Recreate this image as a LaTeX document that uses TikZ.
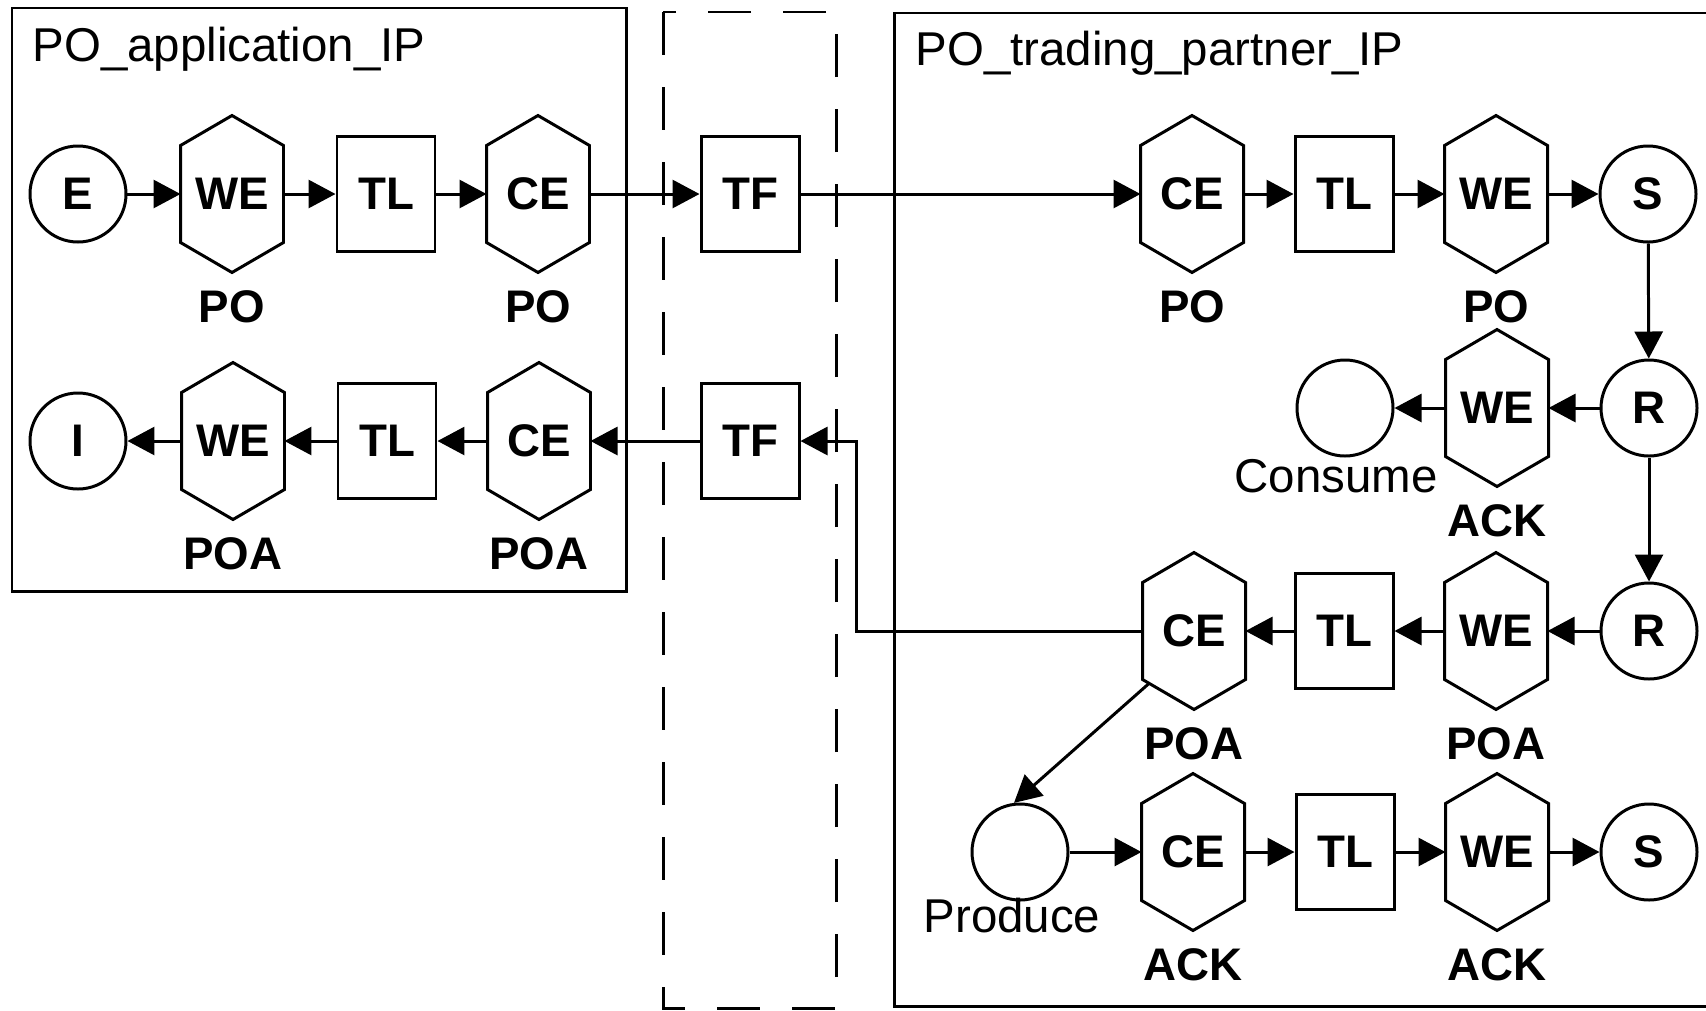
\documentclass[tikz,border=0pt]{standalone}
\usepackage{fontspec}
\setmainfont{Liberation Sans}
\usetikzlibrary{arrows.meta,positioning}

\begin{document}
\begin{tikzpicture}[line width=0.85pt, >={Triangle[length=0.27cm,width=0.28cm]},
  font=\fontsize{13.5}{16}\selectfont,
  place/.style={circle, draw, minimum size=0.96cm, inner sep=0pt, font=\fontsize{13}{15}\selectfont\bfseries},
  hexa/.style={rectangle, minimum width=1cm, minimum height=1.54cm, inner sep=0pt, font=\fontsize{13}{15}\selectfont\bfseries},
  tbox/.style={rectangle, draw, minimum width=0.98cm, minimum height=1.15cm, inner sep=0pt, font=\fontsize{13}{15}\selectfont\bfseries},
  lbl/.style={inner sep=0pt, font=\fontsize{13}{15}\selectfont\bfseries},
  txt/.style={inner sep=0pt}]
\useasboundingbox (0,0) rectangle (17.06,-10.10);
\clip (0,0) rectangle (17.06,-10.10);
% frames:
\draw (0.12,-0.08) rectangle (6.26,-5.91);
\draw[dash pattern=on 0.43cm off 0.32cm] (6.63,-0.12) rectangle (8.36,-10.08);
\draw (8.94,-0.13) rectangle (17.4,-10.06);
\node[txt, anchor=base west] (appT) at (0.31,-0.61) {PO\_application\_IP};
\node[txt, anchor=base west] (tpT) at (9.14,-0.65) {PO\_trading\_partner\_IP};
% application, PO out:
\node[place] (E) at (0.78,-1.94) {E};
\node[hexa] (WE1) at (2.32,-1.94) {WE};
\node[tbox] (TL1) at (3.86,-1.94) {TL};
\node[hexa] (CE1) at (5.38,-1.94) {CE};
\node[tbox] (TF1) at (7.50,-1.94) {TF};
\node[lbl, below=0.17cm of WE1] (WE1l) {PO};
\node[lbl, below=0.17cm of CE1] (CE1l) {PO};
\draw[->] (E) -- (WE1);
\draw[->] (WE1) -- (TL1);
\draw[->] (TL1) -- (CE1);
\draw[->] (CE1) -- (TF1);
% application, POA in:
\node[place] (I) at (0.78,-4.41) {I};
\node[hexa] (WE2) at (2.33,-4.41) {WE};
\node[tbox] (TL2) at (3.87,-4.41) {TL};
\node[hexa] (CE2) at (5.39,-4.41) {CE};
\node[tbox] (TF2) at (7.50,-4.41) {TF};
\node[lbl, below=0.17cm of WE2] (WE2l) {POA};
\node[lbl, below=0.17cm of CE2] (CE2l) {POA};
\draw[->] (TF2) -- (CE2);
\draw[->] (CE2) -- (TL2);
\draw[->] (TL2) -- (WE2);
\draw[->] (WE2) -- (I);
% trading partner, PO in:
\node[hexa] (CE3) at (11.92,-1.94) {CE};
\node[tbox] (TL3) at (13.44,-1.94) {TL};
\node[hexa] (WE3) at (14.96,-1.94) {WE};
\node[place] (S1) at (16.48,-1.94) {S};
\node[lbl, below=0.17cm of CE3] (CE3l) {PO};
\node[lbl, below=0.17cm of WE3] (WE3l) {PO};
\draw[->] (TF1) -- (CE3);
\draw[->] (CE3) -- (TL3);
\draw[->] (TL3) -- (WE3);
\draw[->] (WE3) -- (S1);
% ACK in:
\node[place] (R1) at (16.49,-4.08) {R};
\node[hexa] (WE4) at (14.97,-4.08) {WE};
\node[place] (Cons) at (13.45,-4.08) {};
\node[lbl, below=0.17cm of WE4] (WE4l) {ACK};
\node[txt, below=0cm of Cons, xshift=-0.09cm] (Consl) {Consume};
\draw[->] (S1) -- (R1);
\draw[->] (R1) -- (WE4);
\draw[->] (WE4) -- (Cons);
% POA out:
\node[place] (R2) at (16.49,-6.31) {R};
\node[hexa] (WE5) at (14.96,-6.31) {WE};
\node[tbox] (TL5) at (13.44,-6.31) {TL};
\node[hexa] (CE5) at (11.94,-6.31) {CE};
\node[lbl, below=0.17cm of WE5] (WE5l) {POA};
\node[lbl, below=0.17cm of CE5] (CE5l) {POA};
\coordinate (bend) at (8.56,-6.31);
\draw[->] (R1) -- (R2);
\draw[->] (R2) -- (WE5);
\draw[->] (WE5) -- (TL5);
\draw[->] (TL5) -- (CE5);
\draw[->] (CE5.west) -- (bend) |- (TF2.east);
% ACK out:
\node[place] (Prod) at (10.20,-8.52) {};
\node[hexa] (CE6) at (11.93,-8.52) {CE};
\node[tbox] (TL6) at (13.45,-8.52) {TL};
\node[hexa] (WE6) at (14.97,-8.52) {WE};
\node[place] (S2) at (16.49,-8.52) {S};
\node[txt, below=-0.05cm of Prod, xshift=-0.08cm] (Prodl) {Produce};
\node[lbl, below=0.17cm of CE6] (CE6l) {ACK};
\node[lbl, below=0.17cm of WE6] (WE6l) {ACK};
\draw[->] ([xshift=0.07cm,yshift=0.265cm]CE5.south west) -- (Prod.97);
\draw[->] (Prod) -- (CE6);
\draw[->] (CE6) -- (TL6);
\draw[->] (TL6) -- (WE6);
\draw[->] (WE6) -- (S2);
% hexagon outlines:
\foreach \h in {WE1,CE1,WE2,CE2,CE3,WE3,WE4,WE5,CE5,CE6,WE6}
  \draw (\h.north) -- ([yshift=-0.3cm]\h.north east) -- ([yshift=0.3cm]\h.south east)
    -- (\h.south) -- ([yshift=0.3cm]\h.south west) -- ([yshift=-0.3cm]\h.north west) -- cycle;
\end{tikzpicture}
\end{document}
